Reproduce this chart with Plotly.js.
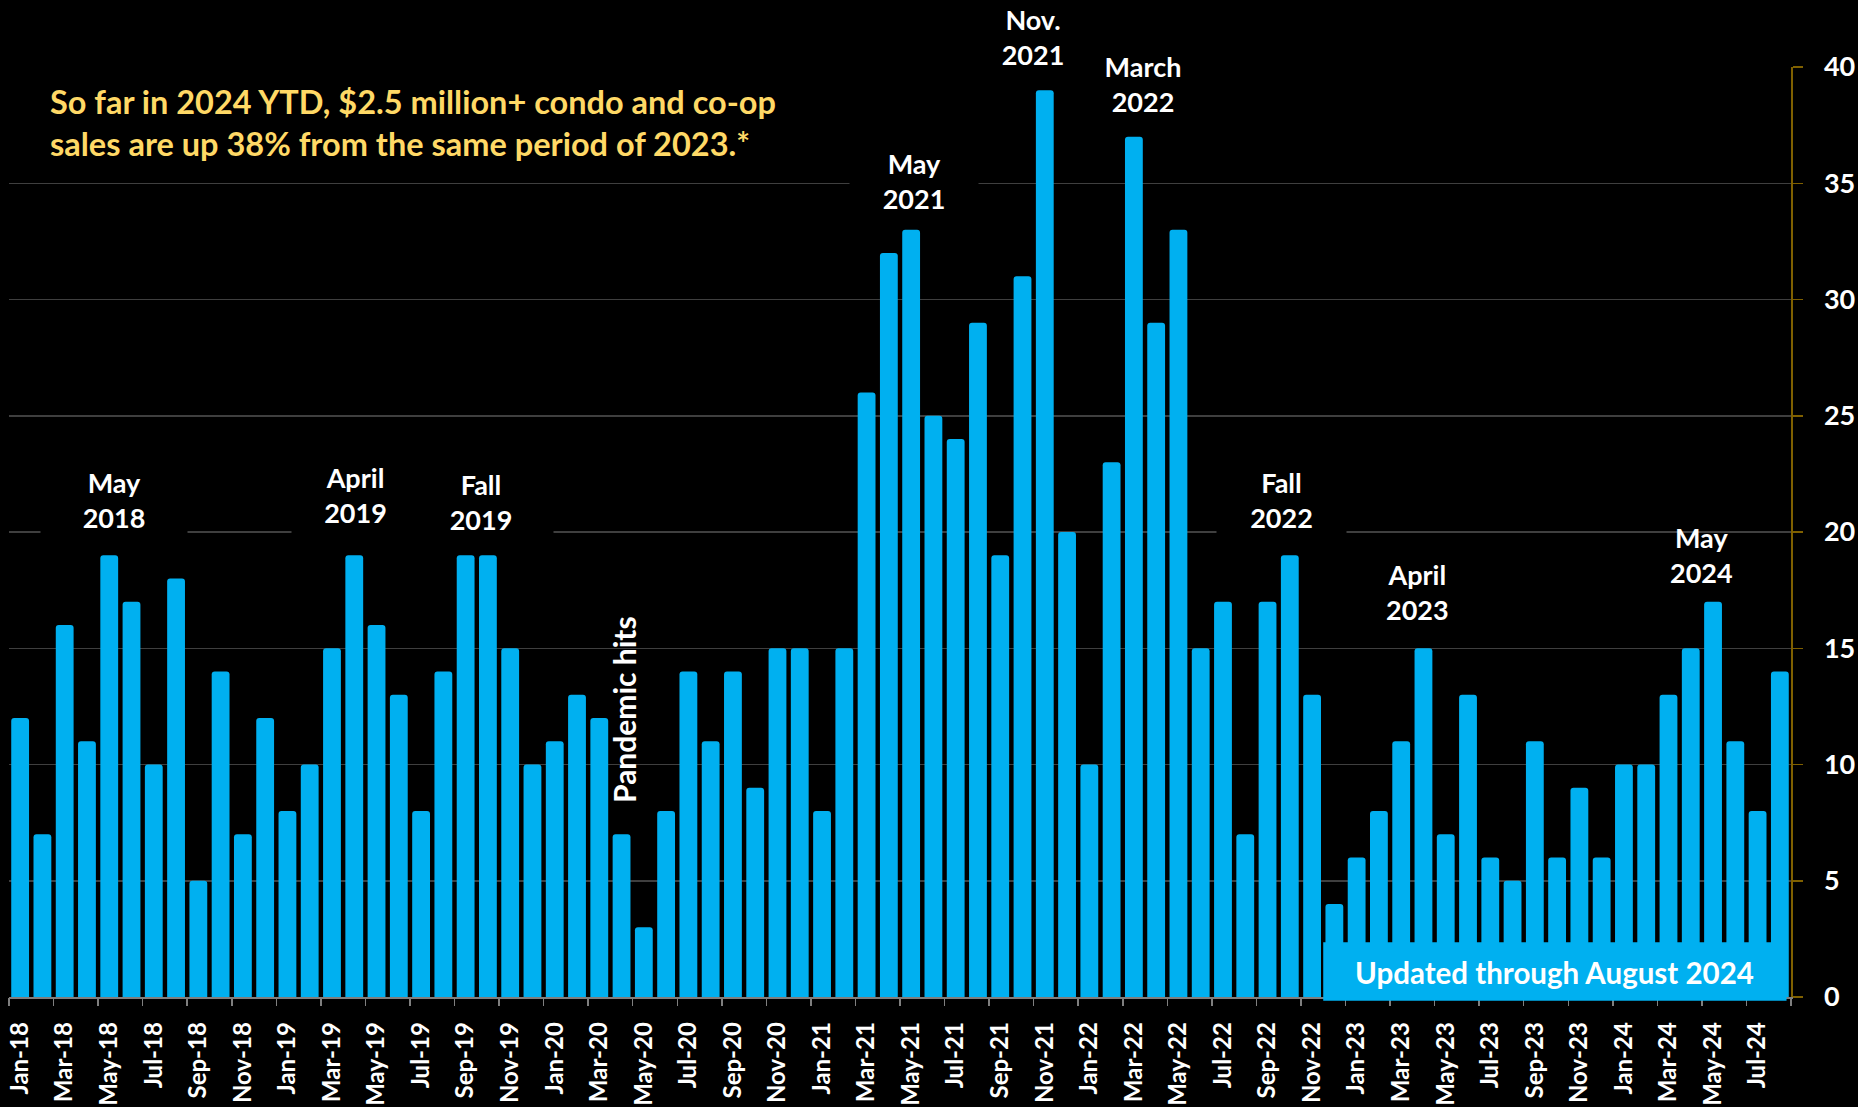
<!DOCTYPE html>
<html>
<head>
<meta charset="utf-8">
<script src="https://cdn.plot.ly/plotly-3.0.1.min.js"></script>
<style>
  html, body { margin: 0; padding: 0; background: #000; }
  #chart { width: 1858px; height: 1107px; }
</style>
</head>
<body>
<div id="chart"></div>
<script>
// Monthly $2.5 million+ condo and co-op sales, Jan 2018 – Aug 2024
const months = [
  'Jan-18','Feb-18','Mar-18','Apr-18','May-18','Jun-18','Jul-18','Aug-18','Sep-18','Oct-18','Nov-18','Dec-18',
  'Jan-19','Feb-19','Mar-19','Apr-19','May-19','Jun-19','Jul-19','Aug-19','Sep-19','Oct-19','Nov-19','Dec-19',
  'Jan-20','Feb-20','Mar-20','Apr-20','May-20','Jun-20','Jul-20','Aug-20','Sep-20','Oct-20','Nov-20','Dec-20',
  'Jan-21','Feb-21','Mar-21','Apr-21','May-21','Jun-21','Jul-21','Aug-21','Sep-21','Oct-21','Nov-21','Dec-21',
  'Jan-22','Feb-22','Mar-22','Apr-22','May-22','Jun-22','Jul-22','Aug-22','Sep-22','Oct-22','Nov-22','Dec-22',
  'Jan-23','Feb-23','Mar-23','Apr-23','May-23','Jun-23','Jul-23','Aug-23','Sep-23','Oct-23','Nov-23','Dec-23',
  'Jan-24','Feb-24','Mar-24','Apr-24','May-24','Jun-24','Jul-24','Aug-24'
];

const sales2018 = [12, 7, 16, 11, 19, 17, 10, 18, 5, 14, 7, 12];
const sales2019 = [8, 10, 15, 19, 16, 13, 8, 14, 19, 19, 15, 10];
const sales2020 = [11, 13, 12, 7, 3, 8, 14, 11, 14, 9, 15, 15];
const sales2021 = [8, 15, 26, 32, 33, 25, 24, 29, 19, 31, 39, 20];
const sales2022 = [10, 23, 37, 29, 33, 15, 17, 7, 17, 19, 13, 4];
const sales2023 = [6, 8, 11, 15, 7, 13, 6, 5, 11, 6, 9, 6];
const sales2024 = [10, 10, 13, 15, 17, 11, 8, 14];

const sales = [].concat(sales2018, sales2019, sales2020, sales2021, sales2022, sales2023, sales2024);

// every other month is labelled; tick marks sit on the boundaries between label pairs
const tickLabels = months.filter((m, i) => i % 2 === 0);
const boundaries = [];
for (let b = -0.5; b <= months.length - 0.5; b += 2) boundaries.push(b);

const FONT = 'Lato, "Open Sans", sans-serif';
const BLUE = '#00B0F0';
const WHITE = '#FFFFFF';

function label(text, x, y, extra) {
  return Object.assign({
    text: text, x: x, y: y, xref: 'x', yref: 'y',
    xanchor: 'center', yanchor: 'middle',
    showarrow: false, align: 'center',
    font: { family: FONT, size: 27, color: WHITE, weight: 'bold' }
  }, extra || {});
}
// callouts with a black box that interrupts the grid lines behind them
function boxed(text, x, y, w, extra) {
  return label(text, x, y, Object.assign({ bgcolor: '#000000', width: w, height: 80, borderpad: 0 }, extra || {}));
}

const annotations = [
  boxed('May<br>2018', 4.21, 21.36, 146),
  boxed('April<br>2019', 15.05, 21.61, 127),
  boxed('Fall<br>2019', 20.68, 21.31, 144),
  boxed('May<br>2021', 40.12, 35.11, 128),
  boxed('Nov.<br>2021', 45.46, 41.29 / 40, 128, { yref: 'paper' }),
  boxed('March<br>2022', 50.40, 39.29, 130),
  boxed('Fall<br>2022', 56.64, 21.38, 129),
  label('April<br>2023', 62.74, 17.44),
  label('May<br>2024', 75.49, 19.03),
  label('Pandemic hits', 27.10, 12.38, { textangle: -90,
        font: { family: FONT, size: 30, color: WHITE, weight: 'bold' } }),
  label('So far in 2024 YTD, $2.5 million+ condo and co-op<br>sales are up 38% from the same period of 2023.*',
        1.23, 37.6, { xanchor: 'left', align: 'left',
                      font: { family: FONT, size: 32.5, color: '#FFD966', weight: 'bold' } }),
  label('Updated through August 2024', 68.89, 1.07,
        { font: { family: FONT, size: 29.5, color: WHITE, weight: 'bold' } })
];

const data = [
  {
    type: 'bar',
    x: months,
    y: sales,
    marker: { color: BLUE, cornerradius: 3, line: { width: 0 } },
    hoverinfo: 'skip'
  },
  {
    // carries the overlay axis that draws the boundary tick marks
    type: 'scatter', x: [], y: [], xaxis: 'x2', yaxis: 'y',
    hoverinfo: 'skip', showlegend: false
  }
];

const layout = {
  width: 1858,
  height: 1107,
  paper_bgcolor: '#000000',
  plot_bgcolor: '#000000',
  margin: { l: 9, r: 67, t: 67, b: 110, pad: 0 },
  bargap: 0.2,
  showlegend: false,
  xaxis: {
    type: 'category',
    range: [-0.5, months.length - 0.5],
    tickmode: 'array',
    tickvals: tickLabels,
    ticktext: tickLabels,
    tickangle: -90,
    ticks: '',
    showgrid: false,
    zeroline: false,
    showline: true,
    linecolor: '#7F7F7F',
    linewidth: 1.5,
    tickfont: { family: FONT, size: 24, color: WHITE, weight: 'bold' },
    ticklabelstandoff: 14,
    automargin: false,
    fixedrange: true
  },
  xaxis2: {
    overlaying: 'x',
    anchor: 'y',
    side: 'bottom',
    range: [-0.5, months.length - 0.5],
    tickmode: 'array',
    tickvals: boundaries,
    ticks: 'outside',
    ticklen: 8,
    tickwidth: 1.5,
    tickcolor: '#7F7F7F',
    showticklabels: false,
    showgrid: false,
    zeroline: false,
    showline: false,
    automargin: false,
    fixedrange: true
  },
  yaxis: {
    side: 'right',
    range: [0, 40],
    tick0: 0,
    dtick: 5,
    showgrid: true,
    gridcolor: '#3F3F3F',
    gridwidth: 1.5,
    zeroline: false,
    showline: true,
    linecolor: '#7F6000',
    linewidth: 1.5,
    ticks: 'outside',
    ticklen: 10,
    tickwidth: 1.5,
    tickcolor: '#7F6000',
    tickfont: { family: FONT, size: 27, color: WHITE, weight: 'bold' },
    ticklabelstandoff: 16,
    automargin: false,
    fixedrange: true
  },
  shapes: [
    {
      // banner behind the update note
      type: 'rect', layer: 'above',
      xref: 'x', yref: 'paper',
      x0: 58.5, x1: 79.3, y0: -0.004, y1: 0.059,
      fillcolor: BLUE, line: { width: 0 }
    }
  ],
  annotations: annotations
};

Plotly.newPlot('chart', data, layout, { displayModeBar: false, staticPlot: true });
</script>
</body>
</html>
